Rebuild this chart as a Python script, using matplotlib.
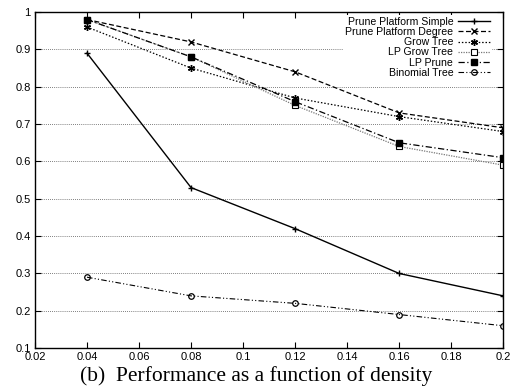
import matplotlib
matplotlib.use("Agg")
import matplotlib.pyplot as plt

plt.rcParams['font.family'] = ['Liberation Sans', 'DejaVu Sans']

# 数据
density = [0.04, 0.08, 0.12, 0.16, 0.20]
prune_simple = [0.89, 0.53, 0.42, 0.30, 0.24]
prune_degree = [0.98, 0.92, 0.84, 0.73, 0.69]
grow_tree = [0.96, 0.85, 0.77, 0.72, 0.68]
lp_grow_tree = [0.98, 0.88, 0.75, 0.64, 0.59]
lp_prune = [0.98, 0.88, 0.76, 0.65, 0.61]
binomial_tree = [0.29, 0.24, 0.22, 0.19, 0.16]

x_ticks = [0.02, 0.04, 0.06, 0.08, 0.1, 0.12, 0.14, 0.16, 0.18, 0.2]
y_ticks = [0.1, 0.2, 0.3, 0.4, 0.5, 0.6, 0.7, 0.8, 0.9, 1]

fig = plt.figure(figsize=(5.14, 3.89), dpi=100)
ax = fig.add_axes([0.068, 0.105, 0.911, 0.864])

asterisk = (6, 2, 0)
ax.plot(density, prune_simple, color='black', lw=1.0, ls='-', marker='+', ms=5, label='Prune Platform Simple')
ax.plot(density, prune_degree, color='black', lw=0.9, ls=(0, (4, 2)), marker='x', ms=4, label='Prune Platform Degree')
ax.plot(density, grow_tree, color='black', lw=0.9, ls=(0, (1.2, 1.5)), marker=asterisk, ms=5, label='Grow Tree')
ax.plot(density, lp_grow_tree, color='#777777', lw=0.9, ls=(0, (1, 1)), marker='s', ms=5,
        mfc='white', mec='black', mew=0.8, label='LP Grow Tree')
ax.plot(density, lp_prune, color='black', lw=0.9, ls=(0, (5, 2, 1, 2)), marker='s', ms=5, label='LP Prune')
ax.plot(density, binomial_tree, color='black', lw=0.8, ls=(0, (5, 2, 1, 2, 1, 2)), marker='o', ms=4,
        mfc='none', mec='black', mew=0.9, label='Binomial Tree')

ax.set_xlim(0.02, 0.2)
ax.set_ylim(0.1, 1)
ax.set_xticks(x_ticks)
ax.set_xticklabels([f'{v:g}' for v in x_ticks])
ax.set_yticks(y_ticks)
ax.set_yticklabels([f'{v:g}' for v in y_ticks])
ax.tick_params(direction='in', top=True, right=True, length=4, width=0.8, labelsize=8, pad=3)
ax.yaxis.grid(True, linestyle=(0, (1, 1.5)), color='#555555', lw=0.6)
ax.set_axisbelow(True)
for s in ax.spines.values():
    s.set_linewidth(1.0)

# 图例：文字右对齐，线条样例在右侧
leg = ax.legend(loc='upper right', bbox_to_anchor=(0.9765, 0.992), markerfirst=False,
                frameon=True, fontsize=7.6, handlelength=3.0, handletextpad=0.5,
                labelspacing=0.02, borderaxespad=0, borderpad=0.2)
leg.get_frame().set_edgecolor('none')
leg.get_frame().set_facecolor('white')
leg.get_frame().set_alpha(1)

fig.text(0.498, 0.008, '(b)  Performance as a function of density', ha='center', va='bottom',
         fontsize=15.5, family=['Liberation Serif', 'DejaVu Serif'])

fig.savefig('out.png', dpi=100)
